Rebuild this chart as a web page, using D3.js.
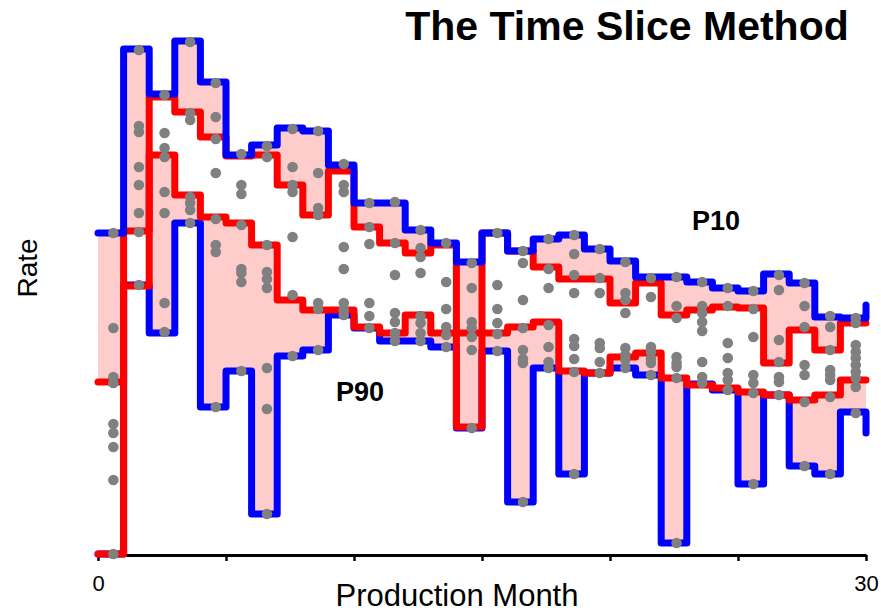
<!DOCTYPE html>
<html lang="en">
<head>
<meta charset="UTF-8">
<title>The Time Slice Method</title>
<script src="https://cdn.jsdelivr.net/npm/d3@7"></script>
<style>
    body { margin: 0; background: #fff; }
    svg { display: block; font-family: Arial, "Liberation Sans", sans-serif; }
</style>
</head>
<body>
<script>

    // production months 0..29, plus the closing point at month 30
    var months = d3.range(0, 31);

    // envelope of all wells (blue)
    var maxRate = [644, 1012, 922, 1028, 946, 800, 820, 854, 848, 780, 704, 704, 650, 624, 586, 644,
        608, 632, 640, 612, 588, 556, 556, 546, 534, 528, 562, 544, 476, 474, 500];
    var minRate = [2, 540, 444, 664, 296, 368, 82, 398, 410, 480, 454, 428, 428, 416, 254, 408,
        106, 374, 162, 364, 374, 360, 24, 342, 330, 142, 320, 178, 162, 286, 244];

    // time slice P10 / P90 (red)
    var p10Rate = [346, 648, 916, 886, 836, 798, 800, 740, 680, 768, 656, 624, 604, 620, 256, 644,
        608, 576, 552, 552, 504, 544, 480, 490, 496, 494, 384, 450, 410, 464, 464];
    var p90Rate = [2, 538, 800, 720, 676, 664, 620, 510, 490, 490, 456, 444, 480, 444, 444, 444,
        456, 466, 368, 364, 396, 404, 354, 340, 334, 326, 320, 310, 320, 350, 350];

    // rate of every well, one list per month
    var wellRates = [
        [644, 454, 356, 344, 262, 244, 216, 150, 2],
        [1010, 858, 846, 776, 740, 684, 646, 540],
        [920, 844, 814, 796, 726, 684, 504, 446],
        [1026, 884, 870, 716, 704, 690, 664],
        [944, 876, 832, 764, 672, 620, 606, 296],
        [802, 740, 722, 660, 572, 564, 546, 368],
        [818, 796, 620, 566, 552, 534, 374, 292, 82],
        [852, 776, 740, 726, 636, 520, 398],
        [848, 764, 694, 680, 504, 492, 410],
        [782, 740, 726, 616, 572, 504, 490, 480],
        [704, 656, 622, 504, 478, 454],
        [706, 624, 560, 484, 466, 444, 428],
        [650, 614, 596, 564, 478, 464, 444, 428],
        [624, 546, 492, 456, 440, 416],
        [584, 534, 466, 454, 436, 410, 254],
        [644, 540, 492, 464, 442, 408],
        [608, 584, 510, 454, 410, 392, 384, 106],
        [632, 572, 534, 460, 416, 386, 374],
        [640, 602, 560, 524, 432, 418, 392, 366, 162],
        [612, 554, 524, 424, 414, 386, 364],
        [586, 524, 510, 484, 414, 400, 390, 374],
        [554, 516, 416, 406, 392, 384, 360],
        [556, 498, 474, 396, 384, 376, 354, 24],
        [546, 498, 484, 466, 448, 386, 356, 344],
        [534, 498, 424, 394, 364, 350, 330],
        [528, 492, 436, 360, 344, 324, 142],
        [560, 530, 430, 386, 356, 346, 320],
        [544, 498, 456, 380, 360, 306, 178],
        [478, 456, 410, 370, 360, 350, 316, 162],
        [474, 464, 420, 406, 394, 380, 366, 354, 336, 284]
    ];

    var xTicks = [0, 5, 10, 15, 20, 25, 30];
    var xTickLabels = ["0", "", "", "", "", "", "30"];

    var svg = d3.select("body").append("svg").attr("width", 881).attr("height", 613);

    var x = d3.scaleLinear().domain([0, 30]).range([98, 866]);
    var y = d3.scaleLinear().domain([0, 1040]).range([555, 35]);

    var rows = months.map(function (m, i) {
        return {m: m, hi: maxRate[i], lo: minRate[i], p10: p10Rate[i], p90: p90Rate[i]};
    });

    //x axis
    var xAxis = d3.axisBottom(x).tickValues(xTicks).tickSize(6).tickSizeOuter(0)
        .tickFormat(function (d, i) { return xTickLabels[i]; });
    var gx = svg.append("g").attr("transform", "translate(0,555)").call(xAxis);
    gx.select(".domain").attr("stroke", "#000").attr("stroke-width", 3);
    gx.selectAll(".tick line").attr("stroke", "#000").attr("stroke-width", 2.5);
    gx.selectAll(".tick text").attr("y", 36).attr("dy", null)
        .attr("font-size", 22).attr("font-family", "Arial, 'Liberation Sans', sans-serif").attr("fill", "#000");

    //pink bands between envelope and P10/P90
    var bandTop = d3.area().curve(d3.curveStepAfter)
        .x(function (d) { return x(d.m); })
        .y0(function (d) { return y(d.hi); })
        .y1(function (d) { return y(d.p10); });
    var bandBot = d3.area().curve(d3.curveStepAfter)
        .x(function (d) { return x(d.m); })
        .y0(function (d) { return y(d.p90); })
        .y1(function (d) { return y(d.lo); });
    svg.append("path").datum(rows).attr("d", bandTop).attr("fill", "#ffcccc");
    svg.append("path").datum(rows).attr("d", bandBot).attr("fill", "#ffcccc");

    //step lines
    function stepLine(key) {
        return d3.line().curve(d3.curveStepAfter)
            .x(function (d) { return x(d.m); })
            .y(function (d) { return y(d[key]); });
    }
    var lines = [["lo", "#0000ff"], ["p90", "#ff0000"], ["p10", "#ff0000"], ["hi", "#0000ff"]];
    lines.forEach(function (l) {
        svg.append("path").datum(rows).attr("d", stepLine(l[0]))
            .attr("fill", "none").attr("stroke", l[1]).attr("stroke-width", 7)
            .attr("stroke-linejoin", "round").attr("stroke-linecap", "round");
    });

    //well points
    var pts = [];
    wellRates.forEach(function (list, m) {
        list.forEach(function (v) { pts.push({m: m, v: v}); });
    });
    svg.selectAll("circle.well").data(pts).enter().append("circle").attr("class", "well")
        .attr("cx", function (d) { return x(d.m + 0.6); })
        .attr("cy", function (d) { return y(d.v); })
        .attr("r", 5.3)
        .attr("fill", "#808080");

    //labels
    svg.append("text").attr("x", 627).attr("y", 40).attr("text-anchor", "middle")
        .attr("font-size", 41).attr("font-weight", "bold").text("The Time Slice Method");
    svg.append("text").attr("x", 716).attr("y", 230).attr("text-anchor", "middle")
        .attr("font-size", 27).attr("font-weight", "bold").text("P10");
    svg.append("text").attr("x", 360).attr("y", 401).attr("text-anchor", "middle")
        .attr("font-size", 27).attr("font-weight", "bold").text("P90");
    svg.append("text").attr("x", 457).attr("y", 606).attr("text-anchor", "middle")
        .attr("font-size", 31).text("Production Month");
    svg.append("text").attr("transform", "translate(37,268) rotate(-90)").attr("text-anchor", "middle")
        .attr("font-size", 28).text("Rate");

</script>
</body>
</html>
